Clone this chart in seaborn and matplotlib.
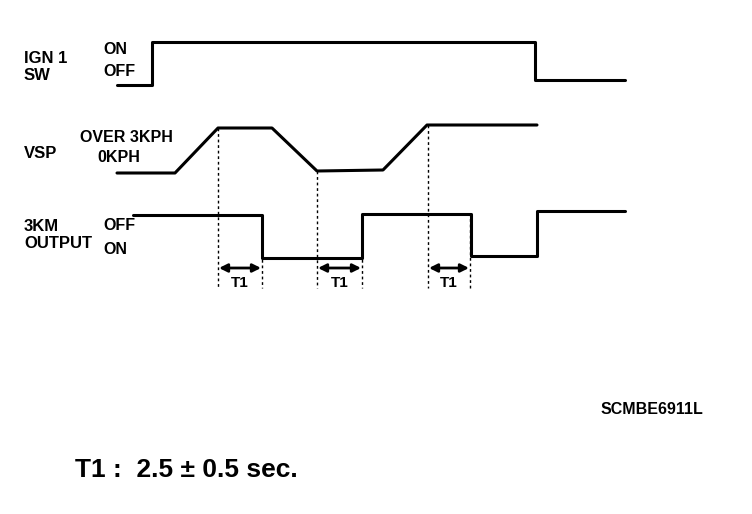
import numpy as np
import pandas as pd
import matplotlib
matplotlib.use("Agg")
import matplotlib.pyplot as plt
import seaborn as sns

# Waveform breakpoints (picture coordinates, y grows downward)
ign_x = [117, 152, 152, 535, 535, 625]
ign_y = [85, 85, 42, 42, 80, 80]

vsp_x = [117, 175, 218, 272, 317, 383, 427, 537]
vsp_y = [173, 173, 128, 128, 171, 170, 125, 125]

out_x = [133, 262, 262, 362, 362, 471, 471, 537, 537, 625]
out_y = [215, 215, 258, 258, 214, 214, 256, 256, 211, 211]

# Timing markers (T1 intervals)
t1_start = [218, 317, 428]
t1_end = [262, 362, 470]
guide_x = [218, 262, 317, 362, 428, 470]
guide_top = [128, 215, 171, 215, 125, 213]
guide_bottom = 288
arrow_y = 268

signal_names = ["IGN 1\nSW", "VSP", "3KM\nOUTPUT"]
signal_y = [67, 153, 235]
level_labels = ["ON", "OFF", "OVER 3KPH", "0KPH", "OFF", "ON"]
level_x = [103, 103, 80, 97, 103, 103]
level_y = [50, 72, 138, 158, 225, 250]

sns.set_theme(style="white")
plt.rcParams["font.family"] = ["Liberation Sans", "DejaVu Sans"]
plt.rcParams["text.color"] = "black"

fig = plt.figure(figsize=(7.52, 5.14), dpi=100)
ax = fig.add_axes([0, 0, 1, 1])

for xs, ys in [(ign_x, ign_y), (vsp_x, vsp_y), (out_x, out_y)]:
    df = pd.DataFrame({"x": xs, "y": ys})
    sns.lineplot(data=df, x="x", y="y", sort=False, estimator=None,
                 color="black", linewidth=2.2, ax=ax)

for gx, gt in zip(guide_x, guide_top):
    ax.plot([gx, gx], [gt, guide_bottom], color="black", linewidth=1.0,
            linestyle=(0, (2, 2)))

for a, b in zip(t1_start, t1_end):
    ax.annotate("", xy=(a + 1, arrow_y), xytext=(b - 1, arrow_y),
                arrowprops=dict(arrowstyle="<|-|>", color="black", lw=2.0,
                                mutation_scale=12, shrinkA=0, shrinkB=0))
    ax.text((a + b) / 2, 283, "T1", ha="center", va="center",
            fontsize=11, fontweight="bold")

for name, y in zip(signal_names, signal_y):
    ax.text(24, y, name, ha="left", va="center", fontsize=12,
            fontweight="bold", linespacing=1.1)

for lab, x, y in zip(level_labels, level_x, level_y):
    ax.text(x, y, lab, ha="left", va="center", fontsize=11.5,
            fontweight="bold")

ax.text(601, 409, "SCMBE6911L", ha="left", va="center", fontsize=11.5,
        fontweight="bold")
ax.text(75, 470, "T1 :  2.5 \u00b1 0.5 sec.", ha="left", va="center",
        fontsize=19, fontweight="bold")

ax.set_xlim(0, 752)
ax.set_ylim(514, 0)
ax.axis("off")

fig.savefig("out.png", dpi=100)
